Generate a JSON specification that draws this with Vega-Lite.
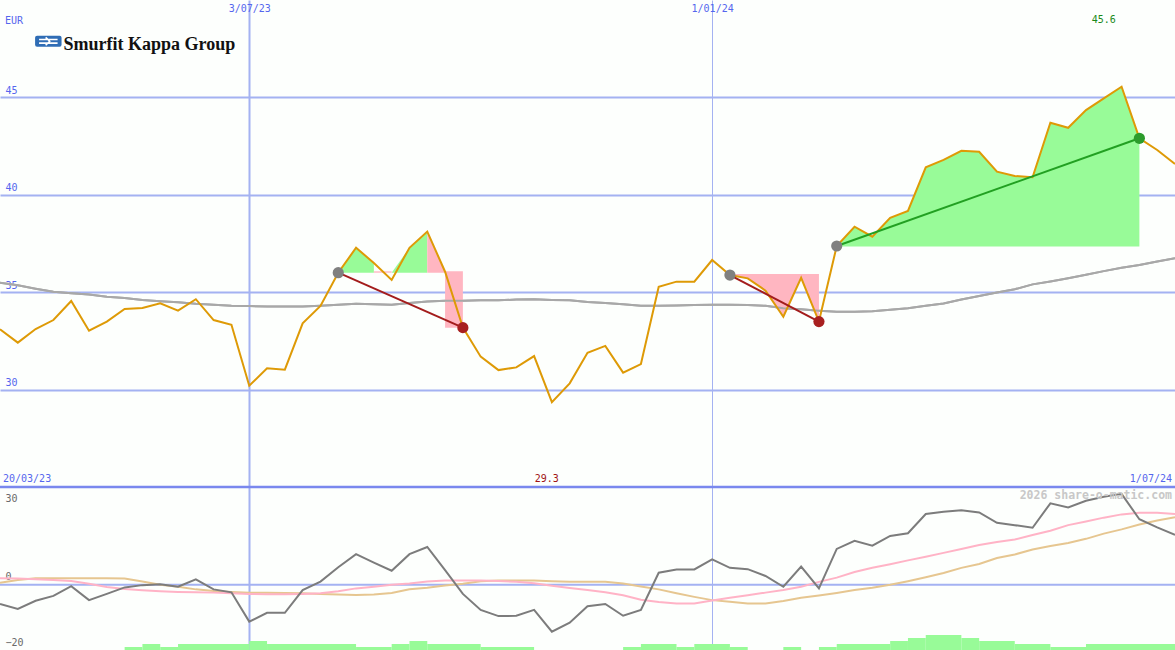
{
"$schema": "https://vega.github.io/schema/vega-lite/v6.json",
"width": 1175,
"height": 650,
"autosize": {"type": "none"},
"padding": 0,
"background": "#fdfffd",
"config": {"view": {"stroke": null}, "axis": {"labelFont": "DejaVu Sans Mono", "labelFontSize": 10}},
"resolve": {"scale": {"y": "independent"}, "axis": {"y": "independent"}},
"datasets": {
"w": [
{"d":"2023-03-27","p":33.10,"ma":35.49,"os":-5.9,"pk":2.0,"tn":0.6},
{"d":"2023-04-03","p":32.41,"ma":35.35,"os":-7.4,"pk":1.9,"tn":1.5},
{"d":"2023-04-10","p":33.11,"ma":35.18,"os":-4.9,"pk":1.7,"tn":2.0},
{"d":"2023-04-17","p":33.57,"ma":35.02,"os":-3.4,"pk":1.5,"tn":2.0},
{"d":"2023-04-24","p":34.55,"ma":34.95,"os":-0.4,"pk":1.2,"tn":2.0},
{"d":"2023-05-01","p":33.02,"ma":34.88,"os":-4.7,"pk":0.3,"tn":2.0},
{"d":"2023-05-08","p":33.49,"ma":34.76,"os":-2.8,"pk":-0.7,"tn":2.0},
{"d":"2023-05-15","p":34.14,"ma":34.70,"os":-0.8,"pk":-1.3,"tn":1.9},
{"d":"2023-05-22","p":34.19,"ma":34.60,"os":-0.1,"pk":-1.7,"tn":1.0},
{"d":"2023-05-29","p":34.43,"ma":34.54,"os":0.2,"pk":-2.0,"tn":0.0},
{"d":"2023-06-05","p":34.05,"ma":34.48,"os":-0.6,"pk":-2.2,"tn":-0.6},
{"d":"2023-06-12","p":34.64,"ma":34.40,"os":1.7,"pk":-2.3,"tn":-1.4},
{"d":"2023-06-19","p":33.57,"ma":34.36,"os":-1.4,"pk":-2.4,"tn":-1.9},
{"d":"2023-06-26","p":33.33,"ma":34.30,"os":-2.3,"pk":-2.6,"tn":-2.2},
{"d":"2023-07-03","p":30.20,"ma":34.29,"os":-11.3,"pk":-2.8,"tn":-2.4},
{"d":"2023-07-10","p":31.09,"ma":34.26,"os":-8.6,"pk":-2.9,"tn":-2.4},
{"d":"2023-07-17","p":31.02,"ma":34.26,"os":-8.6,"pk":-2.9,"tn":-2.5},
{"d":"2023-07-24","p":33.40,"ma":34.26,"os":-1.6,"pk":-2.8,"tn":-2.6},
{"d":"2023-07-31","p":34.29,"ma":34.30,"os":1.0,"pk":-2.6,"tn":-2.8},
{"d":"2023-08-07","p":36.00,"ma":34.36,"os":5.4,"pk":-2.0,"tn":-3.0},
{"d":"2023-08-14","p":37.28,"ma":34.40,"os":9.4,"pk":-1.1,"tn":-3.1},
{"d":"2023-08-21","p":36.50,"ma":34.38,"os":6.8,"pk":-0.6,"tn":-3.0},
{"d":"2023-08-28","p":35.63,"ma":34.35,"os":4.3,"pk":0.0,"tn":-2.5},
{"d":"2023-09-04","p":37.28,"ma":34.45,"os":9.4,"pk":0.4,"tn":-1.4},
{"d":"2023-09-11","p":38.11,"ma":34.52,"os":11.6,"pk":1.0,"tn":-0.9},
{"d":"2023-09-18","p":36.05,"ma":34.56,"os":4.5,"pk":1.3,"tn":-0.2},
{"d":"2023-09-25","p":33.18,"ma":34.56,"os":-2.8,"pk":1.3,"tn":0.3},
{"d":"2023-10-02","p":31.69,"ma":34.58,"os":-7.7,"pk":1.3,"tn":1.1},
{"d":"2023-10-09","p":31.00,"ma":34.58,"os":-9.6,"pk":1.2,"tn":1.3},
{"d":"2023-10-16","p":31.14,"ma":34.62,"os":-9.5,"pk":0.9,"tn":1.3},
{"d":"2023-10-23","p":31.72,"ma":34.64,"os":-7.7,"pk":0.5,"tn":1.3},
{"d":"2023-10-30","p":29.35,"ma":34.60,"os":-14.4,"pk":-0.3,"tn":1.1},
{"d":"2023-11-06","p":30.32,"ma":34.58,"os":-11.6,"pk":-1.0,"tn":0.9},
{"d":"2023-11-13","p":31.89,"ma":34.50,"os":-6.6,"pk":-1.6,"tn":0.9},
{"d":"2023-11-20","p":32.24,"ma":34.45,"os":-5.9,"pk":-2.3,"tn":0.9},
{"d":"2023-11-27","p":30.87,"ma":34.38,"os":-9.5,"pk":-3.2,"tn":0.4},
{"d":"2023-12-04","p":31.31,"ma":34.30,"os":-7.7,"pk":-4.6,"tn":-0.5},
{"d":"2023-12-11","p":35.28,"ma":34.30,"os":3.7,"pk":-5.3,"tn":-1.4},
{"d":"2023-12-18","p":35.54,"ma":34.32,"os":4.7,"pk":-5.7,"tn":-2.6},
{"d":"2023-12-25","p":35.54,"ma":34.34,"os":4.7,"pk":-5.7,"tn":-3.7},
{"d":"2024-01-01","p":36.65,"ma":34.36,"os":7.8,"pk":-4.8,"tn":-4.7},
{"d":"2024-01-08","p":35.88,"ma":34.36,"os":5.2,"pk":-4.0,"tn":-5.2},
{"d":"2024-01-15","p":35.71,"ma":34.34,"os":4.8,"pk":-3.2,"tn":-5.7},
{"d":"2024-01-22","p":35.08,"ma":34.30,"os":2.7,"pk":-2.4,"tn":-5.7},
{"d":"2024-01-29","p":33.74,"ma":34.18,"os":-0.6,"pk":-1.6,"tn":-5.0},
{"d":"2024-02-05","p":35.74,"ma":34.12,"os":5.6,"pk":-0.6,"tn":-4.0},
{"d":"2024-02-12","p":33.49,"ma":34.05,"os":-1.1,"pk":0.9,"tn":-3.3},
{"d":"2024-02-19","p":37.37,"ma":34.00,"os":11.0,"pk":2.2,"tn":-2.5},
{"d":"2024-02-26","p":38.36,"ma":34.00,"os":13.5,"pk":3.9,"tn":-1.6},
{"d":"2024-03-04","p":37.85,"ma":34.02,"os":12.0,"pk":5.2,"tn":-0.9},
{"d":"2024-03-11","p":38.82,"ma":34.10,"os":15.0,"pk":6.3,"tn":0.0},
{"d":"2024-03-18","p":39.17,"ma":34.18,"os":15.8,"pk":7.5,"tn":1.1},
{"d":"2024-03-25","p":41.41,"ma":34.30,"os":21.7,"pk":8.6,"tn":2.3},
{"d":"2024-04-01","p":41.79,"ma":34.42,"os":22.4,"pk":9.8,"tn":3.6},
{"d":"2024-04-08","p":42.26,"ma":34.62,"os":22.9,"pk":11.0,"tn":5.2},
{"d":"2024-04-15","p":42.21,"ma":34.80,"os":22.2,"pk":12.2,"tn":6.4},
{"d":"2024-04-22","p":41.19,"ma":34.98,"os":19.0,"pk":13.1,"tn":8.2},
{"d":"2024-04-29","p":40.97,"ma":35.15,"os":18.3,"pk":13.9,"tn":9.3},
{"d":"2024-05-06","p":40.90,"ma":35.40,"os":17.5,"pk":15.3,"tn":10.8},
{"d":"2024-05-13","p":43.70,"ma":35.55,"os":25.0,"pk":16.6,"tn":11.9},
{"d":"2024-05-20","p":43.44,"ma":35.72,"os":23.7,"pk":18.3,"tn":12.8},
{"d":"2024-05-27","p":44.35,"ma":35.90,"os":25.8,"pk":19.4,"tn":14.1},
{"d":"2024-06-03","p":44.95,"ma":36.08,"os":27.0,"pk":20.6,"tn":15.7},
{"d":"2024-06-10","p":45.55,"ma":36.25,"os":27.9,"pk":21.6,"tn":17.0},
{"d":"2024-06-17","p":42.90,"ma":36.40,"os":20.1,"pk":22.1,"tn":18.5},
{"d":"2024-06-24","p":42.30,"ma":36.58,"os":17.6,"pk":22.1,"tn":19.7},
{"d":"2024-07-01","p":41.58,"ma":36.74,"os":15.3,"pk":21.7,"tn":20.7}
],
"areas": [
{"g":1,"d":"2023-08-07","hi":36.0,"lo":36.0},
{"g":1,"d":"2023-08-14","hi":37.28,"lo":36.0},
{"g":1,"d":"2023-08-21","hi":36.5,"lo":36.0},
{"g":2,"d":"2023-08-21","hi":36.07,"lo":36.0},
{"g":2,"d":"2023-08-28","hi":36.07,"lo":36.0},
{"g":3,"d":"2023-08-28","hi":36.0,"lo":36.0},
{"g":3,"d":"2023-09-04","hi":37.28,"lo":36.0},
{"g":3,"d":"2023-09-11","hi":38.11,"lo":36.0},
{"g":4,"d":"2023-09-11","hi":38.11,"lo":36.0},
{"g":4,"d":"2023-09-18","hi":36.05,"lo":36.0},
{"g":7,"d":"2023-09-18","hi":36.07,"lo":33.18},
{"g":7,"d":"2023-09-25","hi":36.07,"lo":33.18},
{"g":5,"d":"2024-01-08","hi":35.93,"lo":35.88},
{"g":5,"d":"2024-01-15","hi":35.93,"lo":35.71},
{"g":5,"d":"2024-01-22","hi":35.93,"lo":35.08},
{"g":5,"d":"2024-01-29","hi":35.93,"lo":33.74},
{"g":5,"d":"2024-02-05","hi":35.93,"lo":35.74},
{"g":5,"d":"2024-02-12","hi":35.93,"lo":33.49},
{"g":6,"d":"2024-02-19","hi":37.37,"lo":37.34},
{"g":6,"d":"2024-02-26","hi":38.36,"lo":37.34},
{"g":6,"d":"2024-03-04","hi":37.85,"lo":37.34},
{"g":6,"d":"2024-03-11","hi":38.82,"lo":37.34},
{"g":6,"d":"2024-03-18","hi":39.17,"lo":37.34},
{"g":6,"d":"2024-03-25","hi":41.41,"lo":37.34},
{"g":6,"d":"2024-04-01","hi":41.79,"lo":37.34},
{"g":6,"d":"2024-04-08","hi":42.26,"lo":37.34},
{"g":6,"d":"2024-04-15","hi":42.21,"lo":37.34},
{"g":6,"d":"2024-04-22","hi":41.19,"lo":37.34},
{"g":6,"d":"2024-04-29","hi":40.97,"lo":37.34},
{"g":6,"d":"2024-05-06","hi":40.90,"lo":37.34},
{"g":6,"d":"2024-05-13","hi":43.70,"lo":37.34},
{"g":6,"d":"2024-05-20","hi":43.44,"lo":37.34},
{"g":6,"d":"2024-05-27","hi":44.35,"lo":37.34},
{"g":6,"d":"2024-06-03","hi":44.95,"lo":37.34},
{"g":6,"d":"2024-06-10","hi":45.55,"lo":37.34},
{"g":6,"d":"2024-06-17","hi":42.90,"lo":37.34}
],
"sig": [
{"s":1,"d":"2023-08-07","v":36.0,"r":"loss"},
{"s":1,"d":"2023-09-25","v":33.18,"r":"loss"},
{"s":2,"d":"2024-01-08","v":35.88,"r":"loss"},
{"s":2,"d":"2024-02-12","v":33.49,"r":"loss"},
{"s":3,"d":"2024-02-19","v":37.37,"r":"gain"},
{"s":3,"d":"2024-06-17","v":42.90,"r":"gain"}
],
"dots": [
{"d":"2023-08-07","v":36.0,"k":"entry"},
{"d":"2023-09-25","v":33.18,"k":"loss"},
{"d":"2024-01-08","v":35.88,"k":"entry"},
{"d":"2024-02-12","v":33.49,"k":"loss"},
{"d":"2024-02-19","v":37.37,"k":"entry"},
{"d":"2024-06-17","v":42.90,"k":"gain"}
],
"bars": [
{"d":"2023-05-15","d2":"2023-05-22","v":-19.08},
{"d":"2023-05-22","d2":"2023-05-29","v":-18.16},
{"d":"2023-05-29","d2":"2023-06-05","v":-19.08},
{"d":"2023-06-05","d2":"2023-07-03","v":-18.16},
{"d":"2023-07-03","d2":"2023-07-10","v":-17.24},
{"d":"2023-07-10","d2":"2023-08-14","v":-18.16},
{"d":"2023-08-14","d2":"2023-08-28","v":-19.08},
{"d":"2023-08-28","d2":"2023-09-04","v":-18.16},
{"d":"2023-09-04","d2":"2023-09-11","v":-17.24},
{"d":"2023-09-11","d2":"2023-10-02","v":-18.16},
{"d":"2023-10-02","d2":"2023-10-23","v":-19.08},
{"d":"2023-11-27","d2":"2023-12-04","v":-19.08},
{"d":"2023-12-04","d2":"2023-12-18","v":-18.16},
{"d":"2023-12-18","d2":"2023-12-25","v":-19.08},
{"d":"2023-12-25","d2":"2024-01-08","v":-18.16},
{"d":"2024-01-08","d2":"2024-01-15","v":-19.08},
{"d":"2024-01-29","d2":"2024-02-05","v":-19.08},
{"d":"2024-02-12","d2":"2024-02-19","v":-19.08},
{"d":"2024-02-19","d2":"2024-03-11","v":-18.16},
{"d":"2024-03-11","d2":"2024-03-18","v":-17.24},
{"d":"2024-03-18","d2":"2024-03-25","v":-16.32},
{"d":"2024-03-25","d2":"2024-04-08","v":-15.4},
{"d":"2024-04-08","d2":"2024-04-15","v":-16.32},
{"d":"2024-04-15","d2":"2024-04-29","v":-17.24},
{"d":"2024-04-29","d2":"2024-05-13","v":-18.16},
{"d":"2024-05-13","d2":"2024-05-27","v":-19.08},
{"d":"2024-05-27","d2":"2024-07-01","v":-18.16}
]
},
"layer": [
{
"layer": [
{"data": {"name": "w"}, "mark": {"type": "line", "color": "#a8a8a8", "strokeWidth": 2},
 "encoding": {
  "x": {"field": "d", "type": "temporal", "scale": {"type": "utc", "domain": [{"year":2023,"month":3,"date":27,"utc":true},{"year":2024,"month":7,"date":1,"utc":true}]},
    "axis": {"orient": "top", "values": [{"year":2023,"month":7,"date":3,"utc":true},{"year":2024,"month":1,"date":1,"utc":true}], "format": "%-d/%m/%y", "grid": true, "gridColor": "#a4b2f2", "gridWidth": {"condition": {"test": "utcmonth(datum.value) === 6", "value": 2}, "value": 1}, "domain": false, "ticks": false, "tickSize": 0, "labelPadding": -13, "labelAlign": "center", "labelFlush": false, "labelColor": "#5566ee", "title": null}},
  "y": {"field": "ma", "type": "quantitative", "scale": {"domain": [16.63, 50], "nice": false, "zero": false},
    "axis": {"orient": "left", "values": [30, 35, 40, 45], "grid": true, "gridColor": "#a4b2f2", "gridWidth": 2, "domain": false, "ticks": false, "tickSize": 0, "labelAlign": "left", "labelBaseline": "bottom", "labelPadding": -5, "labelOffset": -2, "labelFlush": false, "labelColor": "#5566ee", "title": null}}
 }},
{"data": {"name": "areas"}, "transform": [{"filter": "datum.g === 1 || datum.g === 3 || datum.g === 6"}], "mark": {"type": "area", "color": "#98fb98", "opacity": 1},
 "encoding": {"x": {"field": "d", "type": "temporal"}, "y": {"field": "hi", "type": "quantitative"}, "y2": {"field": "lo"}, "detail": {"field": "g", "type": "nominal"}}},
{"data": {"name": "areas"}, "transform": [{"filter": "datum.g === 2 || datum.g === 4 || datum.g === 5 || datum.g === 7"}], "mark": {"type": "area", "color": "#ffb6c1", "opacity": 1},
 "encoding": {"x": {"field": "d", "type": "temporal"}, "y": {"field": "hi", "type": "quantitative"}, "y2": {"field": "lo"}, "detail": {"field": "g", "type": "nominal"}}},
{"data": {"name": "w"}, "mark": {"type": "line", "color": "#a8a8a8", "strokeWidth": 2},
 "encoding": {"x": {"field": "d", "type": "temporal"}, "y": {"field": "ma", "type": "quantitative"}}},
{"data": {"name": "w"}, "mark": {"type": "line", "color": "#de9a06", "strokeWidth": 2},
 "encoding": {"x": {"field": "d", "type": "temporal"}, "y": {"field": "p", "type": "quantitative"}}},
{"data": {"name": "sig"}, "mark": {"type": "line", "strokeWidth": 2},
 "encoding": {"x": {"field": "d", "type": "temporal"}, "y": {"field": "v", "type": "quantitative"}, "detail": {"field": "s", "type": "nominal"},
  "stroke": {"field": "r", "type": "nominal", "scale": {"domain": ["loss", "gain"], "range": ["#a31c1c", "#22a022"]}, "legend": null}}},
{"data": {"name": "dots"}, "mark": {"type": "point", "filled": true, "size": 125, "opacity": 1, "strokeWidth": 0},
 "encoding": {"x": {"field": "d", "type": "temporal"}, "y": {"field": "v", "type": "quantitative"},
  "fill": {"field": "k", "type": "nominal", "scale": {"domain": ["entry", "loss", "gain"], "range": ["#808080", "#a82020", "#2c9c2c"]}, "legend": null}}},
{"data": {"values": [{"d": "2023-03-27", "v": 48.9, "t": "EUR"}]}, "mark": {"type": "text", "align": "left", "baseline": "middle", "dx": 5, "font": "DejaVu Sans Mono", "fontSize": 10, "color": "#5566ee"},
 "encoding": {"x": {"field": "d", "type": "temporal"}, "y": {"field": "v", "type": "quantitative"}, "text": {"field": "t"}}},
{"data": {"values": [{"d": "2023-04-15", "v": 47.88}]}, "mark": {"type": "point", "filled": true, "size": 700, "opacity": 1, "color": "#2f6db5", "shape": "M -0.85 -0.42 L 0.85 -0.42 Q 1 -0.42 1 -0.27 L 1 0.27 Q 1 0.42 0.85 0.42 L -0.85 0.42 Q -1 0.42 -1 0.27 L -1 -0.27 Q -1 -0.42 -0.85 -0.42 Z"},
 "encoding": {"x": {"field": "d", "type": "temporal"}, "y": {"field": "v", "type": "quantitative"}}},
{"data": {"values": [{"d": "2023-04-15", "v": 47.88}]}, "mark": {"type": "point", "filled": false, "size": 700, "opacity": 1, "stroke": "#ffffff", "strokeWidth": 1.6, "shape": "M -0.7 -0.14 L 0.7 -0.14 M -0.7 0.14 L 0.7 0.14 M -0.2 -0.3 L 0.1 0 L -0.2 0.3"},
 "encoding": {"x": {"field": "d", "type": "temporal"}, "y": {"field": "v", "type": "quantitative"}}},
{"data": {"values": [{"d": "2023-04-21", "v": 47.43, "t": "Smurfit Kappa Group"}]}, "mark": {"type": "text", "align": "left", "baseline": "alphabetic", "font": "Liberation Serif", "fontWeight": "bold", "fontSize": 18, "color": "#111111"},
 "encoding": {"x": {"field": "d", "type": "temporal"}, "y": {"field": "v", "type": "quantitative"}, "text": {"field": "t"}}},
{"data": {"values": [{"d": "2024-06-03", "v": 48.97, "t": "45.6"}]}, "mark": {"type": "text", "align": "center", "baseline": "middle", "font": "DejaVu Sans Mono", "fontSize": 10, "color": "#1a8a1a"},
 "encoding": {"x": {"field": "d", "type": "temporal"}, "y": {"field": "v", "type": "quantitative"}, "text": {"field": "t"}}},
{"data": {"values": [{"d": "2023-10-28", "v": 25.41, "t": "29.3"}]}, "mark": {"type": "text", "align": "center", "baseline": "middle", "font": "DejaVu Sans Mono", "fontSize": 10, "color": "#a01414"},
 "encoding": {"x": {"field": "d", "type": "temporal"}, "y": {"field": "v", "type": "quantitative"}, "text": {"field": "t"}}},
{"data": {"values": [{"d": "2023-03-27", "v": 25.41, "t": "20/03/23"}]}, "mark": {"type": "text", "align": "left", "baseline": "middle", "dx": 3, "font": "DejaVu Sans Mono", "fontSize": 10, "color": "#5566ee"},
 "encoding": {"x": {"field": "d", "type": "temporal"}, "y": {"field": "v", "type": "quantitative"}, "text": {"field": "t"}}},
{"data": {"values": [{"d": "2024-07-01", "v": 25.41, "t": "1/07/24"}]}, "mark": {"type": "text", "align": "right", "baseline": "middle", "dx": -3, "font": "DejaVu Sans Mono", "fontSize": 10, "color": "#5566ee"},
 "encoding": {"x": {"field": "d", "type": "temporal"}, "y": {"field": "v", "type": "quantitative"}, "text": {"field": "t"}}},
{"data": {"values": [{"v": 25}]}, "mark": {"type": "rule", "color": "#7a88ee", "strokeWidth": 2.5},
 "encoding": {"y": {"field": "v", "type": "quantitative"}}}
]
},
{
"layer": [
{"data": {"name": "bars"}, "mark": {"type": "rect", "color": "#98fb98"},
 "encoding": {
  "x": {"field": "d", "type": "temporal"},
  "x2": {"field": "d2"},
  "y": {"field": "v", "type": "quantitative", "scale": {"domain": [-20, 179.39], "nice": false, "zero": false},
    "axis": {"orient": "left", "values": [-20, 0, 30], "grid": false, "domain": false, "ticks": false, "tickSize": 0, "labelAlign": "left",
      "labelBaseline": {"condition": {"test": "datum.value === 30", "value": "top"}, "value": "bottom"},
      "labelOffset": {"condition": {"test": "datum.value === 30", "value": 6}, "value": -3},
      "labelPadding": -5, "labelFlush": false, "labelColor": "#6a6a6a", "title": null}},
  "y2": {"datum": -20}
 }},
{"data": {"values": [{"v": 0}]}, "mark": {"type": "rule", "color": "#a4b2f2", "strokeWidth": 2},
 "encoding": {"y": {"field": "v", "type": "quantitative"}}},
{"data": {"name": "w"}, "mark": {"type": "line", "color": "#e6c690", "strokeWidth": 2},
 "encoding": {"x": {"field": "d", "type": "temporal"}, "y": {"field": "tn", "type": "quantitative"}}},
{"data": {"name": "w"}, "mark": {"type": "line", "color": "#ffb3c6", "strokeWidth": 2},
 "encoding": {"x": {"field": "d", "type": "temporal"}, "y": {"field": "pk", "type": "quantitative"}}},
{"data": {"name": "w"}, "mark": {"type": "line", "color": "#7c7c7c", "strokeWidth": 2},
 "encoding": {"x": {"field": "d", "type": "temporal"}, "y": {"field": "os", "type": "quantitative"}}},
{"data": {"values": [{"d": "2024-07-01", "v": 27.24, "t": "2026 share-o-matic.com"}]}, "mark": {"type": "text", "align": "right", "baseline": "middle", "dx": -3, "font": "DejaVu Sans Mono", "fontWeight": "bold", "fontSize": 11.5, "color": "#c8c8c8"},
 "encoding": {"x": {"field": "d", "type": "temporal"}, "y": {"field": "v", "type": "quantitative"}, "text": {"field": "t"}}}
]
}
]
}
